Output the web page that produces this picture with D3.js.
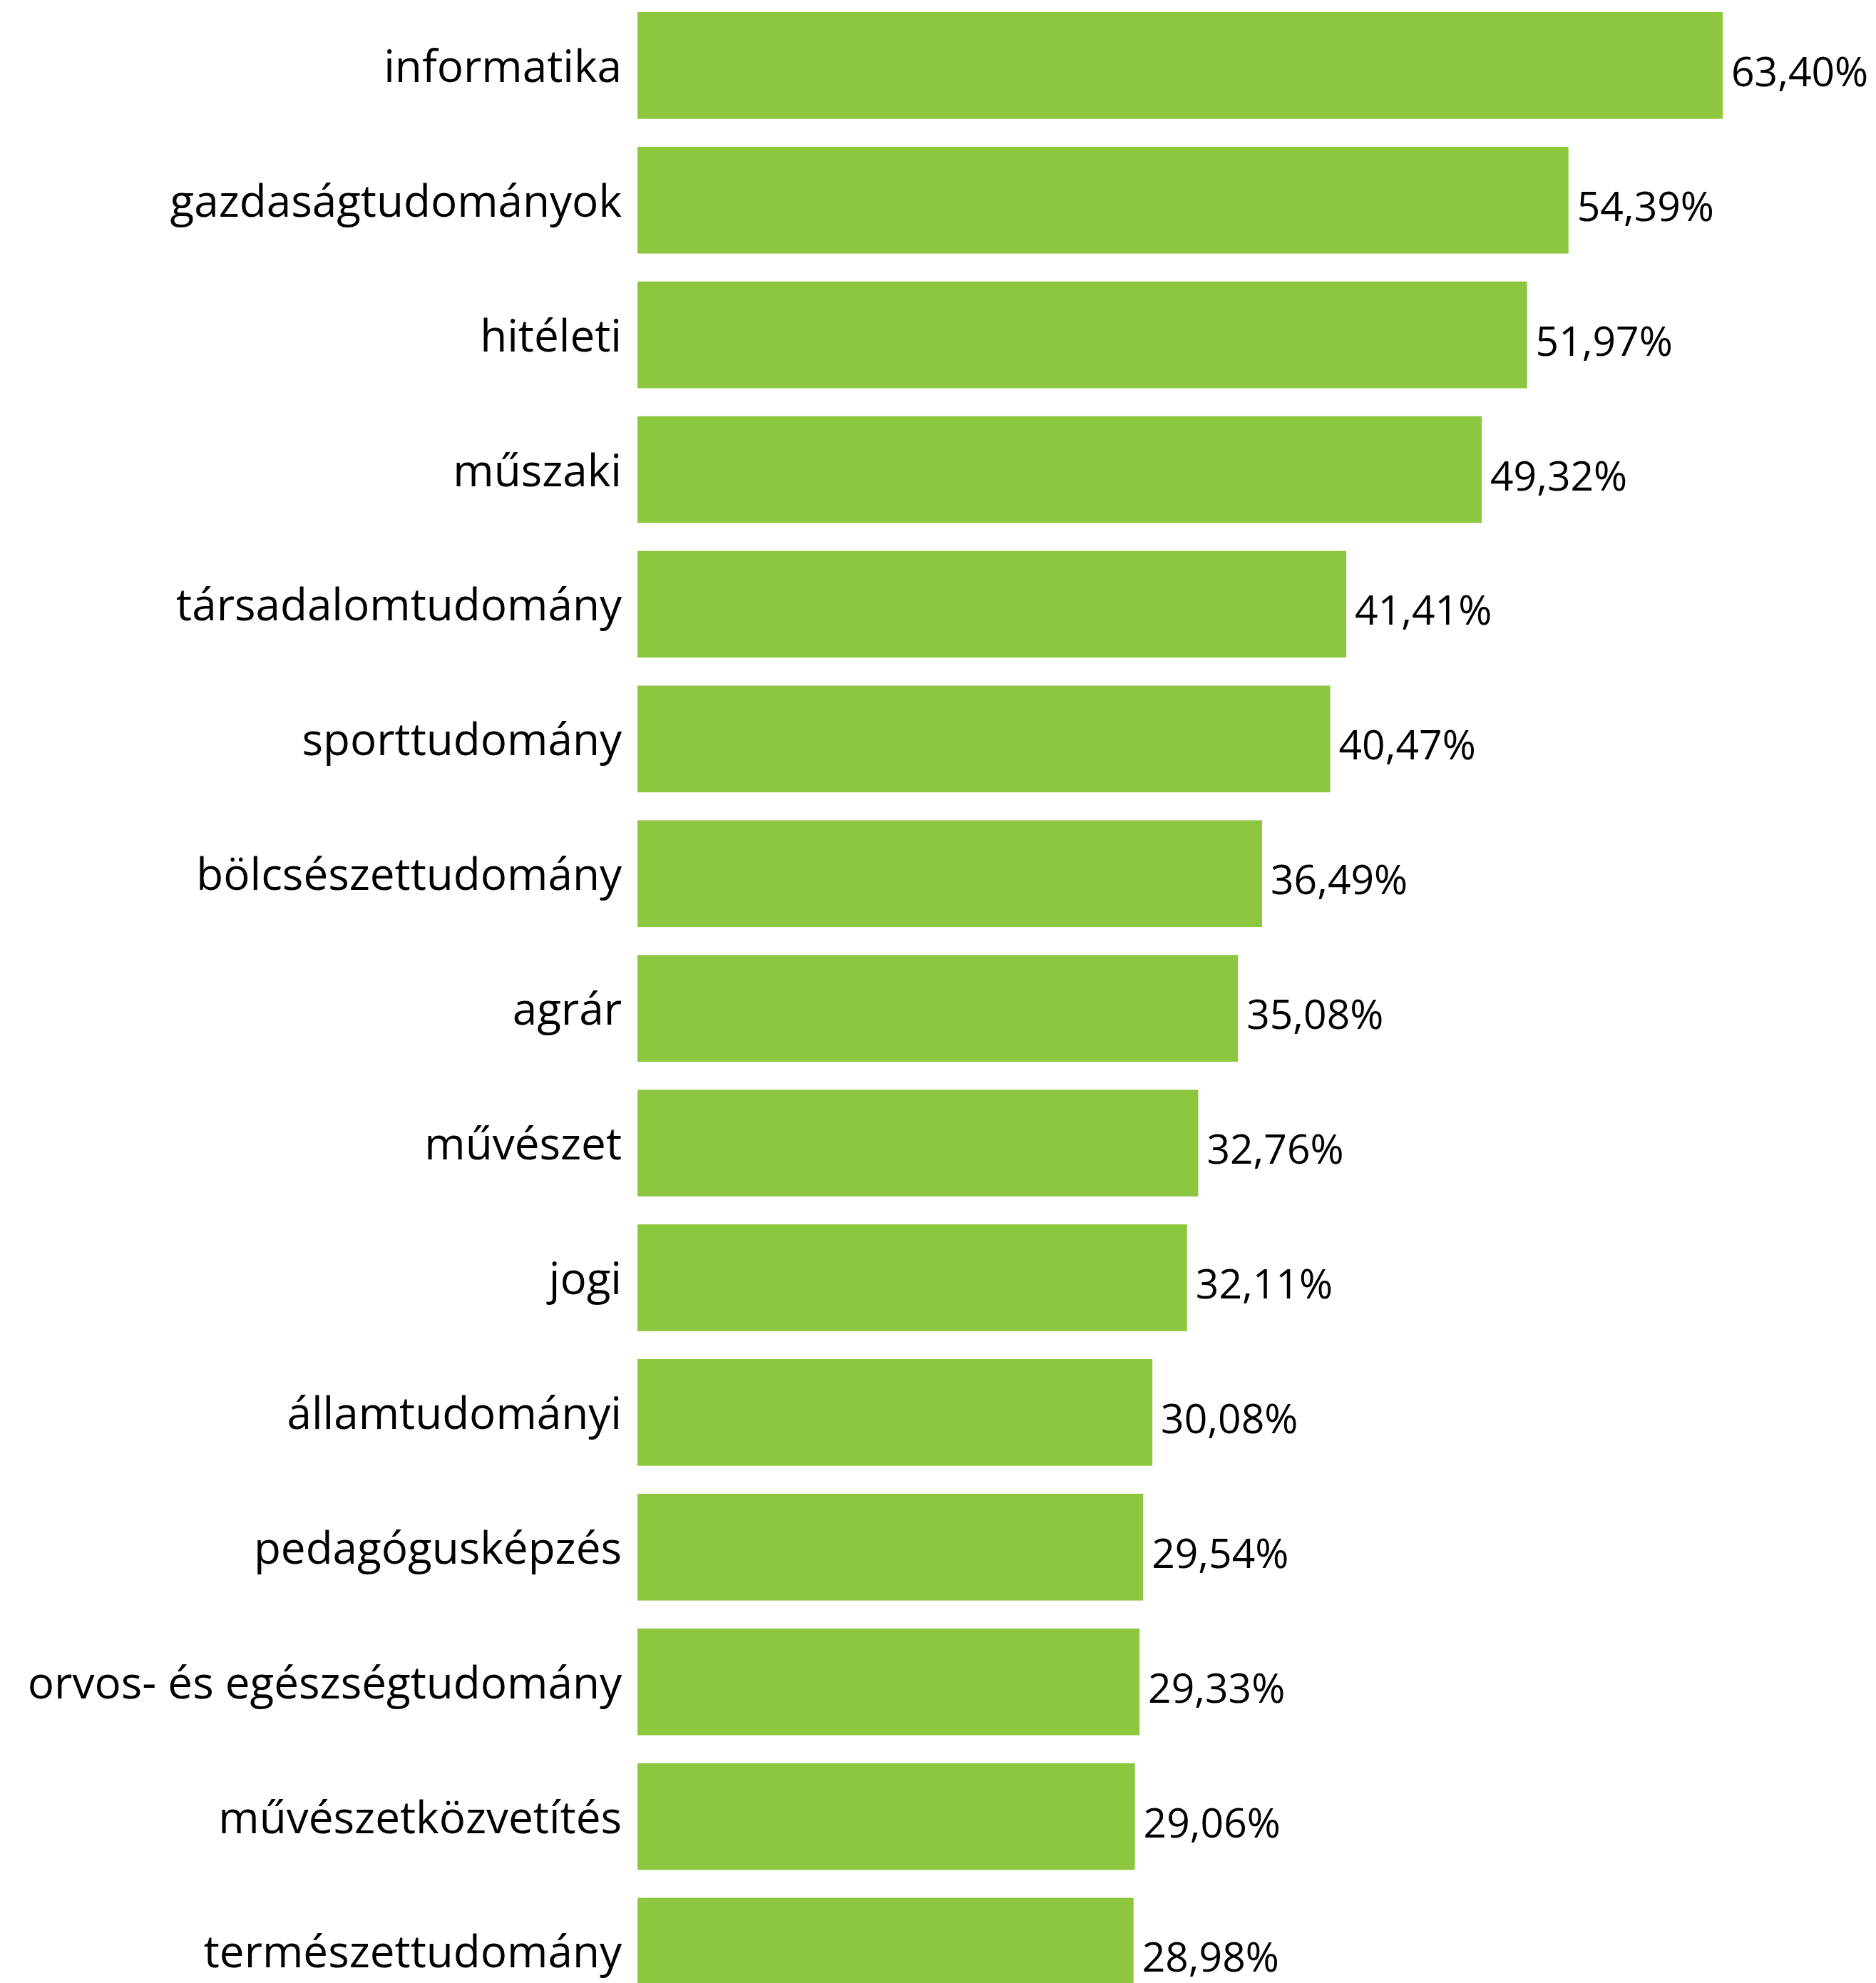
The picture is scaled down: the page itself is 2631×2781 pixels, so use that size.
<!DOCTYPE html>
<html>
<head>
<meta charset="utf-8">
<script src="https://cdn.jsdelivr.net/npm/d3@7"></script>
<style>
  html, body { margin: 0; padding: 0; background: #ffffff; }
  svg { display: block; }
</style>
</head>
<body>
<script>
const categories = [
  "informatika",
  "gazdaságtudományok",
  "hitéleti",
  "műszaki",
  "társadalomtudomány",
  "sporttudomány",
  "bölcsészettudomány",
  "agrár",
  "művészet",
  "jogi",
  "államtudományi",
  "pedagógusképzés",
  "orvos- és egészségtudomány",
  "művészetközvetítés",
  "természettudomány"
];
const values = [63.40, 54.39, 51.97, 49.32, 41.41, 40.47, 36.49, 35.08, 32.76, 32.11, 30.08, 29.54, 29.33, 29.06, 28.98];

const W = 2631, H = 2781;
const barColor = "#8dc63f";
const fontFamily = "'Open Sans', 'Noto Sans', sans-serif";

const locale = d3.formatLocale({ decimal: ",", thousands: " ", grouping: [3], currency: ["", ""] });
const fmt = v => locale.format(".2f")(v) + "%";

const svg = d3.select("body").append("svg").attr("width", W).attr("height", H);

const data = categories.map((c, i) => ({ cat: c, val: values[i] }));

const x = d3.scaleLinear().domain([0, d3.max(values)]).range([894, 2416]);
const step = 188.9, pad = 0.2075;
const r0 = 17 - step * pad / 2;
const y = d3.scaleBand().domain(categories).range([r0, r0 + step * categories.length])
  .paddingInner(pad).paddingOuter(pad / 2);

svg.append("g").selectAll("rect").data(data).join("rect")
  .attr("x", x(0))
  .attr("y", d => y(d.cat))
  .attr("width", d => x(d.val) - x(0))
  .attr("height", y.bandwidth())
  .attr("fill", barColor);

// category axis labels
const yAxis = d3.axisLeft(y).tickSize(0).tickPadding(22);
const gy = svg.append("g").attr("transform", `translate(${x(0)},0)`).call(yAxis);
gy.select(".domain").remove();
gy.selectAll("text")
  .attr("font-family", fontFamily)
  .attr("font-size", 62)
  .attr("fill", "#000")
  .attr("dy", null)
  .attr("y", 23);

// value labels
svg.append("g").selectAll("text").data(data).join("text")
  .attr("x", d => x(d.val) + 12)
  .attr("y", d => y(d.cat) + y.bandwidth() / 2 + 29)
  .attr("font-family", fontFamily)
  .attr("font-size", 57)
  .attr("fill", "#000")
  .text(d => fmt(d.val));
</script>
</body>
</html>
